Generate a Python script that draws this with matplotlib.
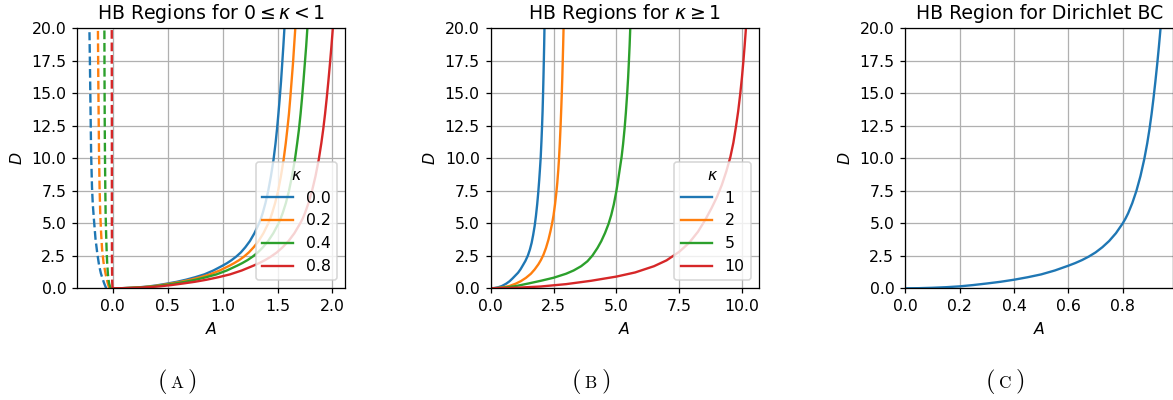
import matplotlib
matplotlib.use("Agg")
import matplotlib.pyplot as plt

# ---------------------------------------------------------------
# Hopf-bifurcation boundary curves D(A)
# ---------------------------------------------------------------

# Shared D samples for the kappa < 1 solid branches and the Dirichlet curve
D_small = [0.00, 0.01, 0.04, 0.085, 0.15, 0.25, 0.37, 0.50, 0.66, 0.85, 1.07, 1.37,
           1.74, 1.94, 2.17, 2.44, 2.76, 3.16, 3.64, 4.24, 5.00, 5.36, 5.78, 6.55,
           7.48, 8.62, 9.92, 11.15, 12.2, 13.4, 14.6, 15.9, 17.3, 18.6, 20.0]

# Panel (A): 0 <= kappa < 1, solid branch (A >= 0)
kappa_small = ["0.0", "0.2", "0.4", "0.8"]
A_k00 = [0.000, 0.083, 0.167, 0.250, 0.333, 0.416, 0.500, 0.583, 0.666, 0.749, 0.833,
         0.916, 0.999, 1.041, 1.082, 1.124, 1.166, 1.207, 1.249, 1.290, 1.332, 1.349,
         1.365, 1.390, 1.415, 1.440, 1.464, 1.482, 1.495, 1.508, 1.520, 1.532, 1.543,
         1.553, 1.563]
A_k02 = [0.000, 0.089, 0.177, 0.266, 0.354, 0.443, 0.531, 0.620, 0.708, 0.797, 0.885,
         0.974, 1.062, 1.106, 1.151, 1.195, 1.239, 1.283, 1.328, 1.372, 1.416, 1.434,
         1.451, 1.478, 1.505, 1.531, 1.556, 1.575, 1.589, 1.604, 1.616, 1.628, 1.641,
         1.651, 1.662]
A_k04 = [0.000, 0.094, 0.189, 0.283, 0.377, 0.472, 0.566, 0.660, 0.755, 0.849, 0.944,
         1.038, 1.132, 1.179, 1.227, 1.274, 1.321, 1.368, 1.415, 1.462, 1.510, 1.528,
         1.547, 1.576, 1.604, 1.632, 1.659, 1.679, 1.695, 1.710, 1.723, 1.736, 1.749,
         1.761, 1.772]
A_k08 = [0.000, 0.107, 0.213, 0.320, 0.427, 0.534, 0.640, 0.747, 0.854, 0.960, 1.067,
         1.174, 1.280, 1.334, 1.387, 1.440, 1.494, 1.547, 1.601, 1.654, 1.707, 1.729,
         1.750, 1.782, 1.814, 1.846, 1.876, 1.899, 1.916, 1.933, 1.948, 1.963, 1.978,
         1.991, 2.004]

# Panel (A): dashed branch (A < 0)
Dd_k00 = [0.00, 0.15, 0.38, 0.70, 1.15, 1.80, 2.70, 3.80, 5.25, 6.50, 7.80, 10.4, 12.9, 15.5, 18.0, 19.7]
Ad_k00 = [-0.060, -0.068, -0.079, -0.092, -0.109, -0.126, -0.142, -0.158, -0.172, -0.183,
          -0.190, -0.198, -0.202, -0.206, -0.210, -0.213]
Dd_k02 = [0.00, 0.15, 0.38, 0.70, 1.10, 2.00, 3.00, 4.10, 5.80, 7.80, 10.4, 12.9, 16.5, 20.0]
Ad_k02 = [-0.031, -0.038, -0.046, -0.055, -0.066, -0.085, -0.098, -0.106, -0.115, -0.121,
          -0.126, -0.129, -0.133, -0.136]
Dd_k04 = [0.00, 0.15, 0.38, 0.70, 1.10, 2.00, 3.00, 4.10, 5.80, 7.80, 10.4, 12.9, 16.5, 20.0]
Ad_k04 = [-0.018, -0.026, -0.034, -0.040, -0.045, -0.052, -0.057, -0.061, -0.066, -0.069,
          -0.072, -0.074, -0.076, -0.077]
Dd_k08 = [0.00, 0.50, 2.00, 5.00, 12.0, 20.0]
Ad_k08 = [-0.003, -0.006, -0.008, -0.009, -0.009, -0.010]

# Panel (B): kappa >= 1
kappa_large = ["1", "2", "5", "10"]
A_k1 = [0.00, 0.15, 0.30, 0.45, 0.62, 0.75, 0.87, 0.98, 1.09, 1.19, 1.29, 1.38, 1.48,
        1.56, 1.63, 1.69, 1.75, 1.80, 1.85, 1.89, 1.93, 1.96, 1.99, 2.02, 2.045, 2.065,
        2.085, 2.10, 2.115, 2.128, 2.14]
D_k1 = [0.00, 0.02, 0.08, 0.18, 0.36, 0.54, 0.76, 0.98, 1.20, 1.47, 1.80, 2.10, 2.52,
        2.98, 3.50, 4.10, 4.80, 5.55, 6.45, 7.30, 8.30, 9.15, 10.05, 11.3, 12.5, 13.6,
        15.0, 16.2, 17.5, 18.7, 20.0]
A_k2 = [0.00, 0.25, 0.50, 0.75, 1.00, 1.20, 1.40, 1.60, 1.75, 1.90, 2.00, 2.10, 2.20,
        2.30, 2.38, 2.44, 2.50, 2.56, 2.61, 2.65, 2.69, 2.72, 2.75, 2.782, 2.81, 2.83,
        2.85, 2.868, 2.885, 2.90]
D_k2 = [0.00, 0.02, 0.08, 0.18, 0.36, 0.55, 0.80, 1.12, 1.45, 1.85, 2.18, 2.58, 3.10,
        3.75, 4.40, 4.95, 5.60, 6.45, 7.30, 8.10, 9.10, 10.0, 11.1, 12.5, 13.9, 15.0,
        16.2, 17.5, 18.75, 20.0]
A_k5 = [0.00, 0.50, 1.00, 1.50, 2.00, 2.50, 3.00, 3.30, 3.60, 3.85, 4.05, 4.25, 4.40,
        4.55, 4.69, 4.80, 4.90, 5.00, 5.07, 5.14, 5.21, 5.27, 5.33, 5.38, 5.43, 5.47,
        5.50, 5.53, 5.555]
D_k5 = [0.00, 0.04, 0.17, 0.37, 0.58, 0.81, 1.12, 1.37, 1.70, 2.08, 2.52, 3.10, 3.62,
        4.25, 4.95, 5.65, 6.45, 7.45, 8.30, 9.20, 10.1, 11.1, 12.3, 13.5, 14.9, 16.2,
        17.4, 18.7, 20.0]
A_k10 = [0.00, 1.00, 2.00, 3.00, 4.00, 5.00, 5.75, 6.50, 7.00, 7.50, 7.90, 8.25, 8.55,
         8.80, 9.00, 9.20, 9.38, 9.54, 9.66, 9.76, 9.85, 9.93, 10.00, 10.06, 10.11, 10.16]
D_k10 = [0.00, 0.04, 0.14, 0.32, 0.58, 0.90, 1.22, 1.70, 2.15, 2.80, 3.50, 4.35, 5.30,
         6.20, 7.00, 7.95, 9.00, 10.1, 11.2, 12.4, 13.6, 14.9, 16.2, 17.5, 18.7, 20.0]

# Panel (C): Dirichlet boundary conditions
A_dir = [0.000, 0.050, 0.100, 0.150, 0.200, 0.250, 0.300, 0.350, 0.400, 0.450, 0.500,
         0.550, 0.600, 0.625, 0.650, 0.675, 0.700, 0.725, 0.750, 0.775, 0.800, 0.810,
         0.820, 0.835, 0.850, 0.865, 0.879, 0.890, 0.898, 0.906, 0.913, 0.920, 0.927,
         0.933, 0.939]
D_dir = D_small

colors = ["#1f77b4", "#ff7f0e", "#2ca02c", "#d62728"]

W, H, DPI = 1173, 400, 113
fig = plt.figure(figsize=(W / DPI, H / DPI), dpi=DPI)


def axes_at(left_px, top_px, width_px, height_px):
    return fig.add_axes([left_px / W, 1 - (top_px + height_px) / H,
                         width_px / W, height_px / H])


ax1 = axes_at(77.3, 28.3, 267.7, 260.0)
ax2 = axes_at(490.7, 28.3, 268.0, 260.0)
ax3 = axes_at(905.3, 28.3, 268.0, 260.0)

# (A)
solid_small = [A_k00, A_k02, A_k04, A_k08]
dashed_small = [(Ad_k00, Dd_k00), (Ad_k02, Dd_k02), (Ad_k04, Dd_k04), (Ad_k08, Dd_k08)]
for lab, a, (ad, dd), c in zip(kappa_small, solid_small, dashed_small, colors):
    ax1.plot(a, D_small, color=c, label=lab)
    ax1.plot(ad, dd, color=c, linestyle="--")
ax1.set_ylim(0, 20)
ax1.set_title(r"HB Regions for $0 \leq \kappa < 1$")
ax1.legend(title=r"$\kappa$", loc="lower right")

# (B)
for lab, a, d, c in zip(kappa_large, [A_k1, A_k2, A_k5, A_k10],
                        [D_k1, D_k2, D_k5, D_k10], colors):
    ax2.plot(a, d, color=c, label=lab)
ax2.set_xlim(left=0)
ax2.set_ylim(0, 20)
ax2.set_title(r"HB Regions for $\kappa \geq 1$")
ax2.legend(title=r"$\kappa$", loc="lower right")

# (C)
ax3.plot(A_dir, D_dir, color=colors[0])
ax3.set_xlim(left=0)
ax3.set_ylim(0, 20)
ax3.set_title("HB Region for Dirichlet BC")

for ax in (ax1, ax2, ax3):
    ax.grid(True)
    ax.set_xlabel(r"$A$")
    ax.set_ylabel(r"$D$")


# sub-figure captions
def caption(xc, letter):
    yb = 1 - 387.5 / H
    fig.text(xc / W, yb, r"$\mathrm{%s}$" % letter, fontsize=11,
             ha="center", va="baseline", math_fontfamily="cm")
    fig.text((xc - 14.5) / W, yb, r"$($", fontsize=15.5,
             ha="center", va="baseline", math_fontfamily="cm")
    fig.text((xc + 14.5) / W, yb, r"$)$", fontsize=15.5,
             ha="center", va="baseline", math_fontfamily="cm")


caption(177, "A")
caption(591, "B")
caption(1005, "C")

fig.savefig("out.png", dpi=DPI)
